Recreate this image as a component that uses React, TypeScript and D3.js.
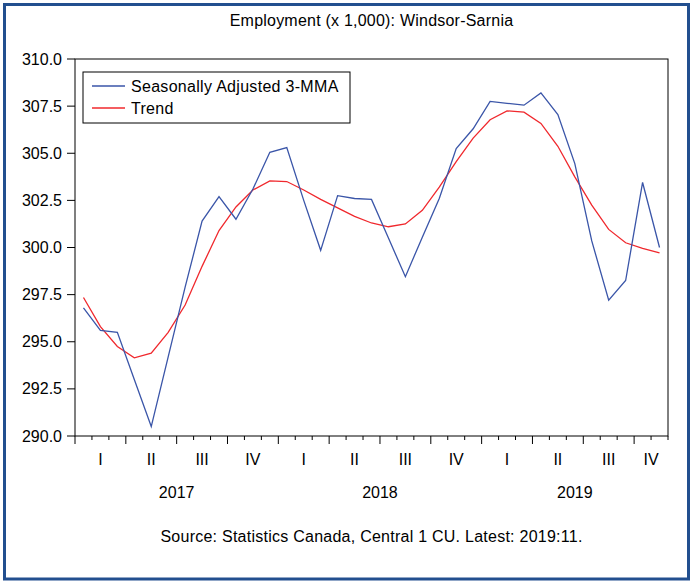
import React from "react";
import * as d3 from "d3";

const title = "Employment (x 1,000): Windsor-Sarnia";
const source = "Source: Statistics Canada, Central 1 CU. Latest: 2019:11.";
const seriesNames = ["Seasonally Adjusted 3-MMA", "Trend"];

// Monthly values Jan 2017 .. Nov 2019
const sa3mma = [
  296.8, 295.6, 295.5, 293.0, 290.5, 294.2, 297.9, 301.4, 302.7, 301.5, 303.1, 305.05,
  305.3, 302.5, 299.85, 302.75, 302.6, 302.55, 300.5, 298.45, 300.55, 302.6, 305.25, 306.3,
  307.75, 307.65, 307.55, 308.2, 307.05, 304.45, 300.35, 297.2, 298.25, 303.45, 300.0,
];
const trend = [
  297.35, 295.8, 294.75, 294.15, 294.4, 295.5, 296.95, 299.0, 300.9, 302.15, 303.05, 303.53,
  303.5, 303.05, 302.55, 302.1, 301.65, 301.3, 301.1, 301.25, 301.97, 303.2, 304.55, 305.8,
  306.78, 307.25, 307.18, 306.58, 305.37, 303.75, 302.25, 300.96, 300.25, 299.96, 299.72,
];
const yTicks = [290.0, 292.5, 295.0, 297.5, 300.0, 302.5, 305.0, 307.5, 310.0];
const quarterLabels = ["I", "II", "III", "IV"];
const years = ["2017", "2018", "2019"];

const W = 691;
const H = 581;
const L = 75, R = 668, T = 59, B = 436;
const FONT = "'Liberation Sans', Arial, Helvetica, sans-serif";

export default function App() {
  const n = sa3mma.length;
  const x = d3.scaleLinear().domain([0, n]).range([L, R]);
  const y = d3.scaleLinear().domain([290, 310]).range([B, T]);
  const line = d3
    .line<number>()
    .x((_, i) => x(i + 0.5))
    .y((d) => y(d));

  const monthTicks = d3.range(0, n + 1);
  const quarters: { label: string; cx: number }[] = [];
  for (let q = 0; q * 3 < n; q++) {
    const a = q * 3;
    const b = Math.min(n, a + 3);
    quarters.push({ label: quarterLabels[q % 4], cx: x((a + b) / 2) });
  }
  const yearPos = years.map((yr, k) => {
    const a = k * 12;
    const b = Math.min(n, a + 12);
    return { label: yr, cx: x((a + b) / 2) };
  });

  return (
    <div style={{ position: "fixed", left: 0, top: 0 }}>
      <svg width={W} height={H} style={{ display: "block", background: "#fff" }}>
        <rect x={0} y={0} width={W} height={H} fill="#fff" />
        <rect x={4.5} y={4.5} width={684} height={574.5} fill="none" stroke="#224f8f" strokeWidth={3} />
        <text x={(L + R) / 2} y={26} textAnchor="middle" fontFamily={FONT} fontSize={16} letterSpacing={0.22} fill="#000">
          {title}
        </text>
        {/* plot frame */}
        <rect x={L} y={T} width={R - L} height={B - T} fill="none" stroke="#000" strokeWidth={1} />
        {/* y axis */}
        {yTicks.map((t) => (
          <g key={t}>
            <line x1={L - 8} x2={L} y1={y(t)} y2={y(t)} stroke="#000" />
            <text x={62} y={y(t)} dy="0.35em" textAnchor="end" fontFamily={FONT} fontSize={16}>
              {t.toFixed(1)}
            </text>
          </g>
        ))}
        {/* x axis ticks */}
        {monthTicks.map((m) => (
          <line
            key={m}
            x1={x(m)}
            x2={x(m)}
            y1={B}
            y2={B + (m % 3 === 0 ? 8 : 4)}
            stroke="#000"
          />
        ))}
        {quarters.map((q, i) => (
          <text key={i} x={q.cx} y={465} textAnchor="middle" fontFamily={FONT} fontSize={16}>
            {q.label}
          </text>
        ))}
        {yearPos.map((yy) => (
          <text key={yy.label} x={yy.cx} y={498} textAnchor="middle" fontFamily={FONT} fontSize={16}>
            {yy.label}
          </text>
        ))}
        <text x={(L + R) / 2} y={542} textAnchor="middle" fontFamily={FONT} fontSize={16} letterSpacing={0.25}>
          {source}
        </text>
        {/* series */}
        <path d={line(trend) || ""} fill="none" stroke="#f0282d" strokeWidth={1.3} />
        <path d={line(sa3mma) || ""} fill="none" stroke="#3a55a8" strokeWidth={1.3} />
        {/* legend */}
        <rect x={83} y={72} width={267} height={51} fill="#fff" stroke="#000" strokeWidth={1} />
        <line x1={92} x2={125} y1={86} y2={86} stroke="#3a55a8" strokeWidth={1.3} />
        <text x={131} y={86} dy="0.35em" fontFamily={FONT} fontSize={16} letterSpacing={0.3}>
          {seriesNames[0]}
        </text>
        <line x1={92} x2={125} y1={108} y2={108} stroke="#f0282d" strokeWidth={1.3} />
        <text x={131} y={108} dy="0.35em" fontFamily={FONT} fontSize={16} letterSpacing={0.3}>
          {seriesNames[1]}
        </text>
      </svg>
    </div>
  );
}
